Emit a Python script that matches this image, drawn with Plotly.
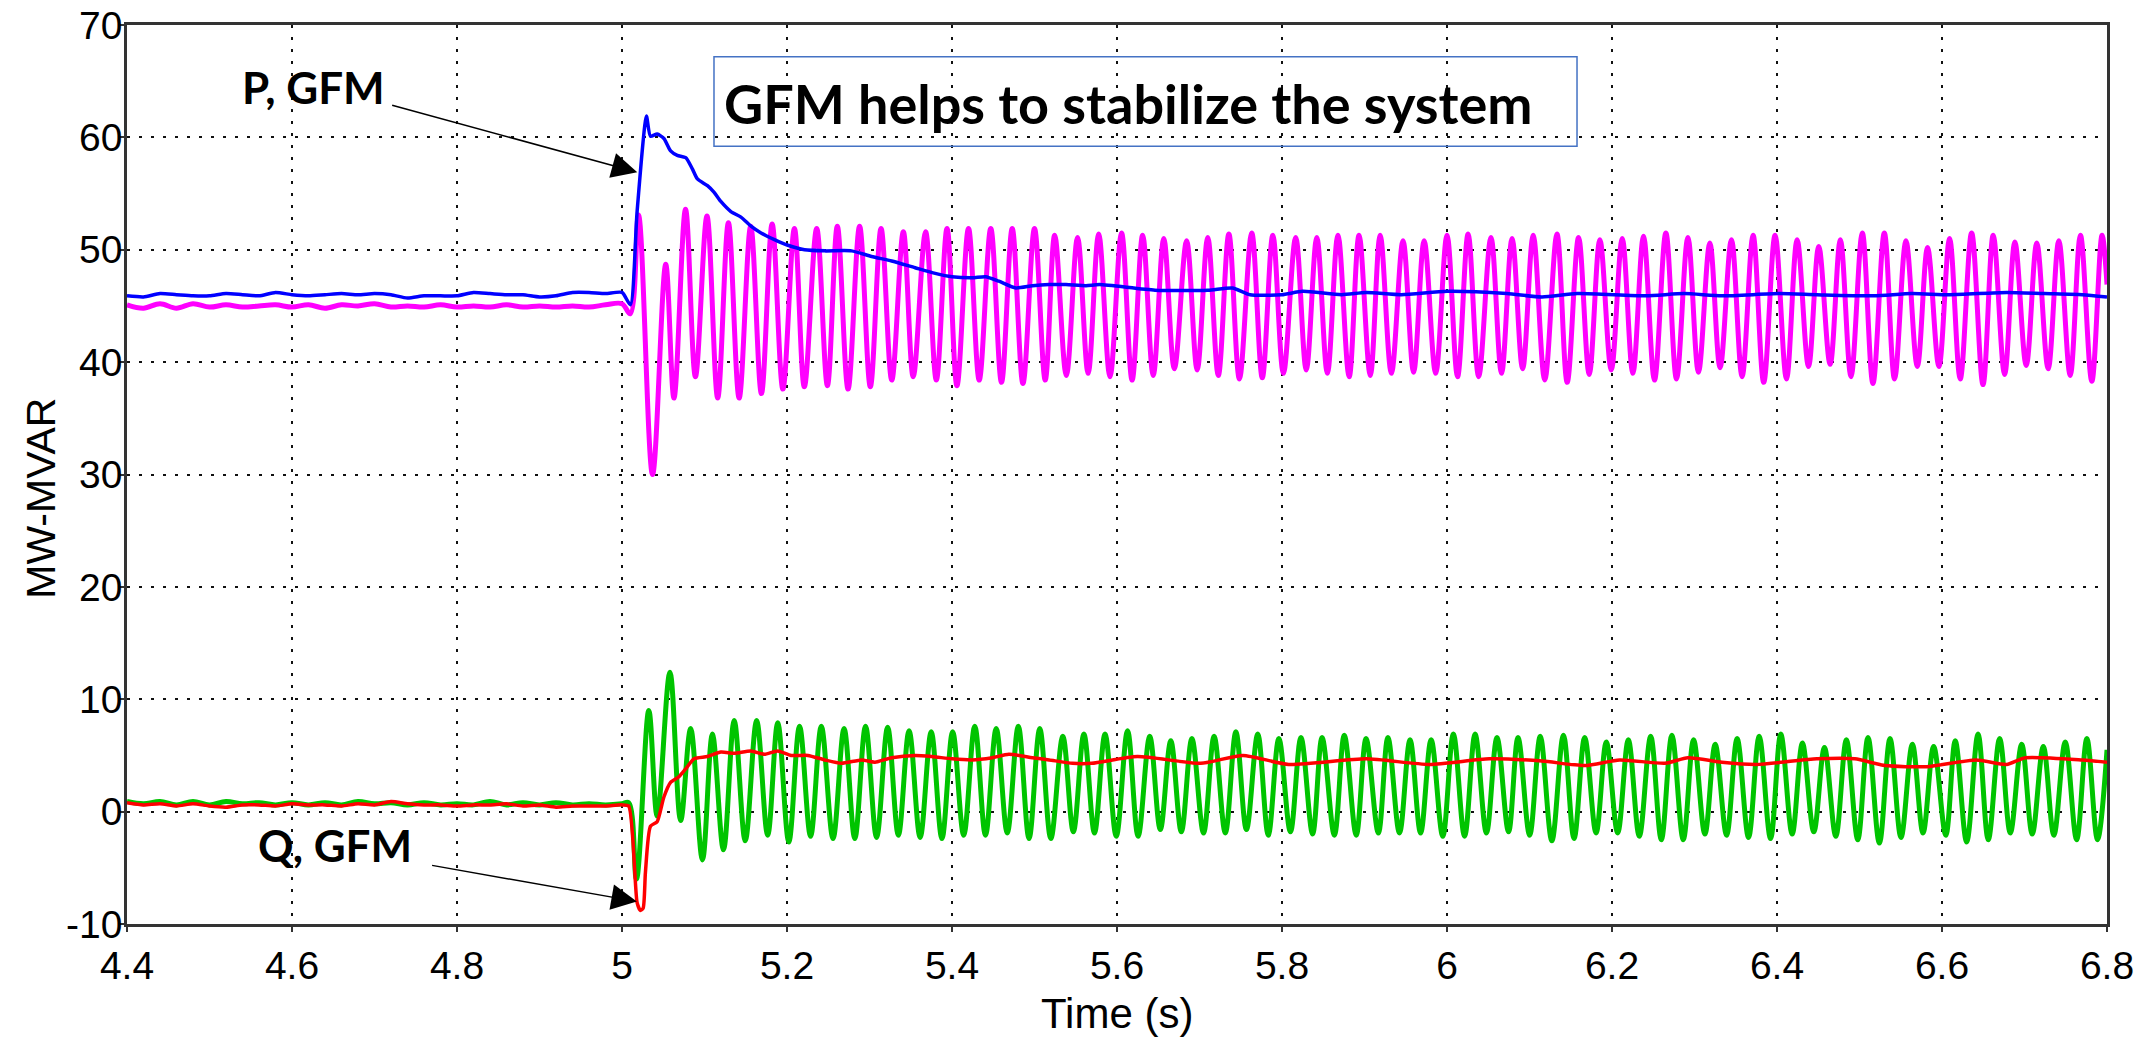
import plotly.graph_objects as go

# ---------------- data ----------------
t_pre = [4.40, 4.42, 4.44, 4.46, 4.48, 4.50, 4.52, 4.54, 4.56, 4.58, 4.60,
         4.62, 4.64, 4.66, 4.68, 4.70, 4.72, 4.74, 4.76, 4.78, 4.80, 4.82,
         4.84, 4.86, 4.88, 4.90, 4.92, 4.94, 4.96, 4.98, 5.00]

p_gfm_pre = [45.9, 45.8, 46.1, 46.0, 45.9, 45.9, 46.1, 46.0, 45.9, 46.2, 46.0,
             45.9, 46.0, 46.1, 46.0, 46.1, 46.0, 45.7, 45.9, 45.9, 45.9, 46.2,
             46.1, 46.0, 46.0, 45.8, 45.9, 46.2, 46.2, 46.1, 46.2]
p_other_pre = [45.1, 44.8, 45.2, 44.8, 45.2, 44.9, 45.1, 44.9, 45.0, 45.1, 44.9,
               45.1, 44.8, 45.1, 45.0, 45.2, 44.9, 45.0, 44.9, 45.1, 44.9, 45.0,
               44.9, 45.1, 44.9, 45.0, 44.9, 45.0, 44.9, 45.1, 45.2]
q_gfm_pre = [0.8, 0.6, 0.7, 0.5, 0.7, 0.5, 0.4, 0.6, 0.6, 0.5, 0.7,
             0.6, 0.6, 0.5, 0.7, 0.6, 0.9, 0.7, 0.6, 0.6, 0.5, 0.6,
             0.6, 0.7, 0.5, 0.6, 0.4, 0.5, 0.5, 0.5, 0.6]
q_other_pre = [0.9, 0.7, 0.9, 0.6, 0.9, 0.6, 0.9, 0.7, 0.8, 0.6, 0.8,
               0.6, 0.8, 0.6, 0.9, 0.7, 0.8, 0.6, 0.8, 0.6, 0.7, 0.6,
               0.9, 0.6, 0.8, 0.6, 0.8, 0.6, 0.7, 0.6, 0.7]

# P, GFM (blue) after the event
t_p_gfm = [5.0102, 5.0183, 5.0296, 5.0345, 5.0426, 5.0508, 5.0589, 5.0670, 5.0772,
           5.0853, 5.0914, 5.1036, 5.1117, 5.1198, 5.1320, 5.1442, 5.1563, 5.1685,
           5.1848, 5.2010, 5.2213, 5.2457, 5.2782, 5.3025, 5.3269, 5.3553, 5.3797,
           5.4000, 5.4244, 5.4406, 5.4569, 5.4772, 5.4975, 5.5178, 5.5381, 5.5624,
           5.5787, 5.6461, 5.7100, 5.7399, 5.7612, 5.7996, 5.8252, 5.8721, 5.9019,
           5.9446, 6.0000, 6.0725, 6.1151, 6.1578, 6.2414, 6.2874, 6.3333, 6.4023,
           6.4483, 6.5172, 6.5632, 6.6092, 6.6782, 6.7241, 6.7701, 6.8000]
v_p_gfm = [45.1, 53.4, 61.9, 60.1, 60.3, 59.9, 58.8, 58.4, 58.2,
           57.2, 56.3, 55.7, 55.1, 54.3, 53.4, 52.9, 52.1, 51.5,
           50.9, 50.4, 50.0, 49.9, 49.9, 49.4, 49.0, 48.4, 47.9,
           47.6, 47.5, 47.6, 47.2, 46.6, 46.8, 46.9, 46.9, 46.8,
           46.9, 46.4, 46.4, 46.6, 46.0, 46.0, 46.3, 46.0, 46.2,
           46.0, 46.3, 46.1, 45.8, 46.1, 45.9, 46.1, 45.9, 46.1,
           46.0, 45.9, 46.1, 46.0, 46.2, 46.1, 46.0, 45.8]

# P, other unit (magenta) after the event: peaks and troughs
t_p_other = [5.010, 5.020, 5.037, 5.053, 5.063, 5.077, 5.089, 5.103, 5.116, 5.129,
             5.142, 5.156, 5.169, 5.182, 5.195, 5.209, 5.221, 5.236, 5.249, 5.261,
             5.274, 5.288, 5.301, 5.314, 5.327, 5.341, 5.353, 5.368, 5.381, 5.394,
             5.406, 5.420, 5.433, 5.447, 5.460, 5.473, 5.486, 5.500, 5.513,
             5.5245, 5.5386, 5.5522, 5.5650, 5.5778, 5.5915, 5.6055, 5.6183, 5.6311,
             5.6439, 5.6567, 5.6695, 5.6844, 5.6972, 5.7100, 5.7228, 5.7356, 5.7484,
             5.7633, 5.7761, 5.7889, 5.8017, 5.8166, 5.8294, 5.8422, 5.8550, 5.8678,
             5.8814, 5.8934, 5.9070, 5.9190, 5.9326, 5.9467, 5.9595, 5.9723, 5.9863,
             6.0000, 6.0128, 6.0256, 6.0384, 6.0533, 6.0661, 6.0789, 6.0917, 6.1045,
             6.1185, 6.1333, 6.1457, 6.1595, 6.1724, 6.1853, 6.1991, 6.2124, 6.2253,
             6.2382, 6.2515, 6.2653, 6.2782, 6.2920, 6.3048, 6.3186, 6.3310, 6.3448,
             6.3577, 6.3710, 6.3839, 6.3977, 6.4115, 6.4244, 6.4382, 6.4506, 6.4644,
             6.4768, 6.4897, 6.5034, 6.5163, 6.5301, 6.5425, 6.5563, 6.5701, 6.5825,
             6.5963, 6.6092, 6.6221, 6.6359, 6.6497, 6.6621, 6.6759, 6.6883, 6.7021,
             6.7149, 6.7287, 6.7416, 6.7554, 6.7678, 6.7816, 6.7940, 6.8000]
v_p_other = [44.3, 53.1, 30.0, 48.7, 36.8, 53.6, 38.7, 53.0, 36.8, 52.4,
             36.8, 52.1, 37.2, 52.3, 37.6, 51.9, 37.8, 51.9, 37.9, 52.1,
             37.6, 52.1, 37.8, 51.9, 38.4, 51.6, 38.7, 51.6, 38.4, 51.9,
             37.9, 51.9, 38.4, 51.9, 38.2, 51.9, 38.1, 51.9, 38.4,
             51.3, 38.8, 51.1, 39.0, 51.4, 38.7, 51.5, 38.4, 51.3,
             38.8, 51.0, 39.4, 50.8, 39.3, 51.1, 38.8, 51.4, 38.5,
             51.5, 38.6, 51.3, 39.0, 51.1, 39.3, 51.1, 39.0, 51.3,
             38.7, 51.3, 38.8, 51.3, 39.0, 50.8, 39.1, 50.8, 39.0,
             51.3, 38.7, 51.4, 38.7, 51.1, 39.0, 51.0, 39.4, 51.3,
             38.4, 51.4, 38.2, 51.1, 38.9, 50.9, 39.3, 51.0, 39.0,
             51.2, 38.4, 51.5, 38.5, 51.1, 39.1, 50.6, 39.5, 50.9,
             38.7, 51.3, 38.2, 51.3, 38.5, 50.9, 39.6, 50.3, 39.8,
             50.9, 38.7, 51.5, 38.1, 51.5, 38.5, 50.8, 39.6, 50.2,
             39.6, 51.0, 38.5, 51.5, 38.0, 51.3, 38.9, 50.7, 39.7,
             50.6, 39.4, 50.8, 38.8, 51.3, 38.3, 51.3, 46.9]

# Q, GFM (red) after the event
t_q_gfm = [5.0081, 5.0183, 5.0223, 5.0256, 5.0284, 5.0345, 5.0426, 5.0508, 5.0589,
           5.0690, 5.0772, 5.0873, 5.1036, 5.1198, 5.1360, 5.1563, 5.1726, 5.1888,
           5.2051, 5.2254, 5.2457, 5.2660, 5.2904, 5.3066, 5.3269, 5.3553, 5.3756,
           5.4000, 5.4244, 5.4487, 5.4690, 5.4975, 5.5178, 5.5462, 5.5693, 5.6247,
           5.7015, 5.7527, 5.8081, 5.9019, 5.9787, 6.0512, 6.1151, 6.1678, 6.2092,
           6.2644, 6.2920, 6.3333, 6.3747, 6.4483, 6.4943, 6.5310, 6.5816, 6.6414,
           6.6782, 6.7011, 6.7701, 6.8000]
v_q_gfm = [0.5, -8.1, -8.8, -8.6, -5.4, -1.3, -0.9, 1.3, 2.6,
           3.1, 3.8, 4.7, 4.9, 5.3, 5.2, 5.4, 5.1, 5.4,
           5.0, 5.0, 4.6, 4.3, 4.6, 4.4, 4.8, 5.0, 4.9,
           4.7, 4.6, 4.8, 5.1, 4.8, 4.6, 4.3, 4.3, 4.9,
           4.3, 5.0, 4.2, 4.7, 4.2, 4.7, 4.5, 4.1, 4.6,
           4.3, 4.8, 4.4, 4.2, 4.7, 4.7, 4.1, 4.0, 4.6,
           4.2, 4.8, 4.6, 4.4]

# Q, other unit (green) after the event: peaks and troughs
t_q_other = [5.0081, 5.0175, 5.0325, 5.0426, 5.0581, 5.0711, 5.0832, 5.0975, 5.1096,
             5.1230, 5.1360, 5.1494, 5.1632, 5.1766, 5.1888, 5.2022, 5.2152, 5.2286,
             5.2416, 5.2558, 5.2692, 5.2822, 5.2952, 5.3086, 5.3220, 5.3350, 5.3480,
             5.3614, 5.3748, 5.3878, 5.4008, 5.4142, 5.4276, 5.4406, 5.4536, 5.4670,
             5.4804, 5.4934, 5.5064, 5.5198,
             5.5343, 5.5471, 5.5599, 5.5727, 5.5855, 5.5991, 5.6128, 5.6256, 5.6397,
             5.6525, 5.6652, 5.6780, 5.6908, 5.7049, 5.7177, 5.7313, 5.7441, 5.7569,
             5.7706, 5.7834, 5.7962, 5.8102, 5.8230, 5.8371, 5.8486, 5.8635, 5.8755,
             5.8900, 5.9019, 5.9168, 5.9284, 5.9424, 5.9552, 5.9680, 5.9808, 5.9949,
             6.0077, 6.0213, 6.0341, 6.0478, 6.0606, 6.0746, 6.0861, 6.1002, 6.1130,
             6.1271,
             6.1411, 6.1540, 6.1669, 6.1807, 6.1931, 6.2069, 6.2198, 6.2331, 6.2469,
             6.2598, 6.2726, 6.2864, 6.2989, 6.3126, 6.3251, 6.3389, 6.3517, 6.3655,
             6.3784, 6.3922, 6.4046, 6.4184, 6.4308, 6.4446, 6.4575, 6.4713, 6.4841,
             6.4979, 6.5103, 6.5241, 6.5370, 6.5503, 6.5641, 6.5770, 6.5899, 6.6046,
             6.6161, 6.6299, 6.6437, 6.6561, 6.6699, 6.6828, 6.6966, 6.7094, 6.7228,
             6.7356, 6.7494, 6.7632, 6.7756, 6.7885, 6.8000]
v_q_other = [0.8, -6.0, 9.0, -0.4, 12.4, -0.8, 7.4, -4.3, 6.9,
             -3.4, 8.1, -2.6, 8.1, -2.1, 7.9, -2.7, 7.6, -2.2,
             7.6, -2.4, 7.4, -2.4, 7.6, -2.3, 7.5, -2.1, 7.2,
             -2.3, 7.1, -2.4, 7.1, -2.1, 7.6, -2.1, 7.4, -1.9,
             7.6, -2.4, 7.4, -2.4,
             6.7, -1.8, 6.9, -1.9, 6.9, -2.2, 7.2, -2.2, 6.7,
             -1.6, 6.3, -1.8, 6.5, -1.9, 6.7, -1.9, 7.1, -1.6,
             6.9, -2.1, 6.5, -1.8, 6.6, -2.0, 6.6, -2.1, 6.8,
             -2.1, 6.5, -1.9, 6.6, -1.9, 6.4, -1.9, 6.4, -2.2,
             6.9, -2.2, 6.9, -1.9, 6.6, -1.8, 6.6, -2.1, 6.7,
             -2.6,
             6.8, -2.4, 6.6, -1.9, 6.2, -1.9, 6.4, -2.2, 6.7,
             -2.5, 6.8, -2.5, 6.4, -2.0, 6.0, -2.1, 6.5, -2.3,
             6.7, -2.4, 6.9, -2.0, 6.1, -1.8, 5.7, -2.2, 6.4,
             -2.5, 6.6, -2.8, 6.5, -2.3, 6.0, -1.9, 5.8, -2.1,
             6.3, -2.7, 6.9, -2.5, 6.5, -1.9, 6.0, -2.0, 5.8,
             -2.1, 6.2, -2.5, 6.5, -2.5, 5.5]

x_ticks = [4.4, 4.6, 4.8, 5.0, 5.2, 5.4, 5.6, 5.8, 6.0, 6.2, 6.4, 6.6, 6.8]
x_tick_text = ["4.4", "4.6", "4.8", "5", "5.2", "5.4", "5.6", "5.8", "6",
               "6.2", "6.4", "6.6", "6.8"]
y_ticks = [-10, 0, 10, 20, 30, 40, 50, 60, 70]
y_tick_text = ["-10", "0", "10", "20", "30", "40", "50", "60", "70"]

# ---------------- figure ----------------
fig = go.Figure()

def add(tx, vy, color, width, smooth):
    fig.add_trace(go.Scatter(x=tx, y=vy, mode="lines",
                             line=dict(color=color, width=width,
                                       shape="spline", smoothing=smooth),
                             showlegend=False, hoverinfo="skip"))

add(t_pre + t_p_other, p_other_pre + v_p_other, "#FF00FF", 5, 1.0)
add(t_pre + t_q_other, q_other_pre + v_q_other, "#00C400", 5, 1.0)
add(t_pre + t_p_gfm, p_gfm_pre + v_p_gfm, "#0000FF", 3.5, 0.6)
add(t_pre + t_q_gfm, q_gfm_pre + v_q_gfm, "#FF0000", 3.5, 0.6)

arial = "Liberation Sans, Arial, sans-serif"
tick_font = dict(family=arial, size=39, color="#000")
grid = dict(showgrid=True, gridcolor="#111", gridwidth=2, griddash="3px,9px",
            showline=True, linecolor="#333", linewidth=2.5, mirror=True,
            ticks="outside", ticklen=5, tickwidth=2, tickcolor="#333",
            zeroline=False, tickfont=tick_font, ticklabeloverflow="allow",
            automargin=False)

fig.update_xaxes(range=[4.4, 6.8], tickvals=x_ticks, ticktext=x_tick_text, **grid)
fig.update_yaxes(range=[-10, 70], tickvals=y_ticks, ticktext=y_tick_text,
                 ticklabelstandoff=-11, **grid)

bold = dict(family="Lato, Open Sans, sans-serif", color="#000")

annotations = [
    # axis titles
    dict(text="MW-MVAR", xref="paper", yref="paper", x=-0.0435, y=0.474,
         textangle=-90, showarrow=False, xanchor="center", yanchor="middle",
         font=dict(family=arial, size=41, color="#000")),
    dict(text="Time (s)", xref="paper", yref="paper", x=0.5, y=-0.099,
         showarrow=False, xanchor="center", yanchor="middle",
         font=dict(family=arial, size=42, color="#000")),
    # labels with arrows
    dict(text="<b>P, GFM</b>", x=4.626, y=64.5, showarrow=False,
         xanchor="center", yanchor="middle", font=dict(size=44, **bold)),
    dict(text="", x=5.0185, y=56.9, ax=4.7196, ay=62.9, axref="x", ayref="y",
         showarrow=True, arrowhead=2, arrowsize=3.4, arrowwidth=1.5,
         arrowcolor="#000"),
    dict(text="<b>Q, GFM</b>", x=4.652, y=-3.0, showarrow=False,
         xanchor="center", yanchor="middle", font=dict(size=44, **bold)),
    dict(text="", x=5.018, y=-8.0, ax=4.768, ay=-4.76, axref="x", ayref="y",
         showarrow=True, arrowhead=2, arrowsize=3.4, arrowwidth=1.5,
         arrowcolor="#000"),
    # boxed message
    dict(text="<b>GFM helps to stabilize the system</b>", x=5.613, y=63.0,
         showarrow=False, xanchor="center", yanchor="middle",
         font=dict(size=54, **bold)),
]

fig.add_shape(type="rect", x0=5.1115, x1=6.1576, y0=59.2, y1=67.17,
              xref="x", yref="y", line=dict(color="#4472C4", width=1.5),
              fillcolor="rgba(0,0,0,0)")

fig.update_layout(width=2141, height=1039,
                  margin=dict(l=127, r=34, t=25, b=115, autoexpand=False),
                  plot_bgcolor="white", paper_bgcolor="white",
                  annotations=annotations)

fig.write_html("out.html")
